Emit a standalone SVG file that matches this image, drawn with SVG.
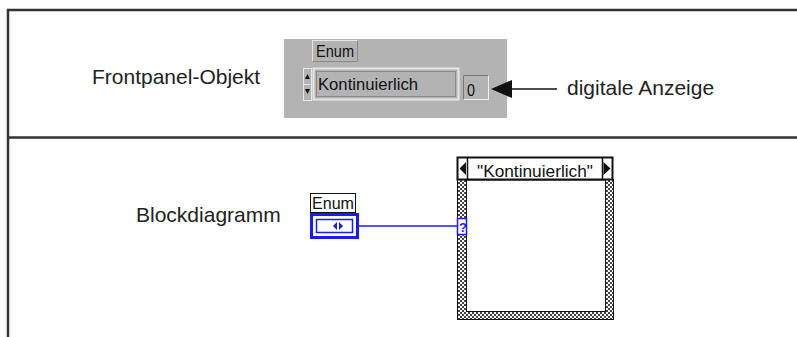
<svg xmlns="http://www.w3.org/2000/svg" width="797" height="337" viewBox="0 0 797 337">
<style>
.lbl{font-family:"Liberation Sans",Arial,sans-serif;font-size:21px;fill:#222}
.ui{font-family:"Liberation Sans",Arial,sans-serif;font-size:17px;fill:#111}
.frame{stroke:#333;stroke-width:2.5;fill:none}
</style>
<defs>
<pattern id="chk" width="4" height="4" patternUnits="userSpaceOnUse">
<rect width="4" height="4" fill="#fff"/>
<rect width="2" height="2" fill="#444"/>
<rect x="2" y="2" width="2" height="2" fill="#444"/>
</pattern>
</defs>
<g id="frame">
<path class="frame" d="M797,10 H8 V337"/>
<line class="frame" x1="8" y1="137.5" x2="797" y2="137.5"/>
</g>
<g id="frontpanel-label"><text class="lbl" x="92" y="84">Frontpanel-Objekt</text></g>
<g id="frontpanel-object">
<rect x="284" y="39" width="223" height="79" fill="#b3b3b3"/>
<rect x="312.5" y="40.5" width="45" height="21" fill="#b3b3b3" stroke="#e6e6e6"/>
<path d="M357.5,40.5 V61.5 H312.5" fill="none" stroke="#888"/>
<text class="ui" x="316" y="57" textLength="38" lengthAdjust="spacingAndGlyphs">Enum</text>
<rect x="303.5" y="68.5" width="8" height="16" fill="#b3b3b3" stroke="#e6e6e6"/>
<rect x="303.5" y="84.5" width="8" height="16" fill="#b3b3b3" stroke="#e6e6e6"/>
<path d="M305,79 L307.5,74 L310,79 Z M305,89 L307.5,94 L310,89 Z" fill="#111"/>
<rect x="313.5" y="68.5" width="145" height="31" fill="#b3b3b3" stroke="#e6e6e6" stroke-width="2"/>
<rect x="316.5" y="71.5" width="139" height="25" fill="none" stroke="#8a8a8a"/>
<text class="ui" x="318" y="90" textLength="100" lengthAdjust="spacingAndGlyphs">Kontinuierlich</text>
</g>
<g id="indicator">
<rect x="463.5" y="75.5" width="25" height="24" fill="#b3b3b3" stroke="#eee"/>
<path d="M463.5,99.5 V75.5 H488.5" fill="none" stroke="#777"/>
<text class="ui" x="467" y="96" textLength="8" lengthAdjust="spacingAndGlyphs">0</text>
</g>
<g id="digital-label"><text class="lbl" x="567" y="95">digitale Anzeige</text></g>
<g id="block-label"><text class="lbl" x="136" y="222">Blockdiagramm</text></g>
<g id="enum-terminal">
<rect x="310.5" y="193.5" width="45" height="19" fill="#fff" stroke="#111"/>
<text class="ui" x="312" y="209" textLength="42" lengthAdjust="spacingAndGlyphs">Enum</text>
<rect x="311.5" y="214.5" width="46" height="23" fill="#fff" stroke="#1a1aff" stroke-width="3"/>
<rect x="316.5" y="219.5" width="36" height="13" fill="#fff" stroke="#1a1aff" stroke-width="1.5"/>
<path d="M333,226 L337,222 V230 Z M339,222 L343,226 L339,230 Z" fill="#1a1aff"/>
</g>
<g id="case-structure">
<rect x="457.5" y="179.5" width="156" height="140" fill="url(#chk)" stroke="#111"/>
<rect x="466.5" y="180" width="139" height="131.5" fill="#fff" stroke="#111"/>
<rect x="457.5" y="157.5" width="155" height="22" fill="#fff" stroke="#111" stroke-width="2"/>
<line x1="467.5" y1="157.5" x2="467.5" y2="179.5" stroke="#111" stroke-width="1.5"/>
<line x1="602.5" y1="157.5" x2="602.5" y2="179.5" stroke="#111" stroke-width="1.5"/>
<path d="M459.5,168.5 L466,162 V175 Z M603.5,162 L610.5,168.5 L603.5,175 Z" fill="#111"/>
<text class="ui" x="477" y="177" textLength="116" lengthAdjust="spacingAndGlyphs">"Kontinuierlich"</text>
<rect x="457.5" y="218.5" width="9" height="16" fill="#fff" stroke="#1a1aff" stroke-width="1.5"/>
<text x="459" y="232" font-family="Liberation Sans,Arial,sans-serif" font-size="13" font-weight="bold" fill="#1a1aff">?</text>
</g>
<g id="connectors">
<line x1="358" y1="226" x2="457" y2="226" stroke="#1a1aff" stroke-width="1.5"/>
<line x1="510" y1="89" x2="557" y2="89" stroke="#111" stroke-width="1.5"/>
<path d="M491,89 L512,80 L512,98 Z" fill="#111"/>
</g>
</svg>
